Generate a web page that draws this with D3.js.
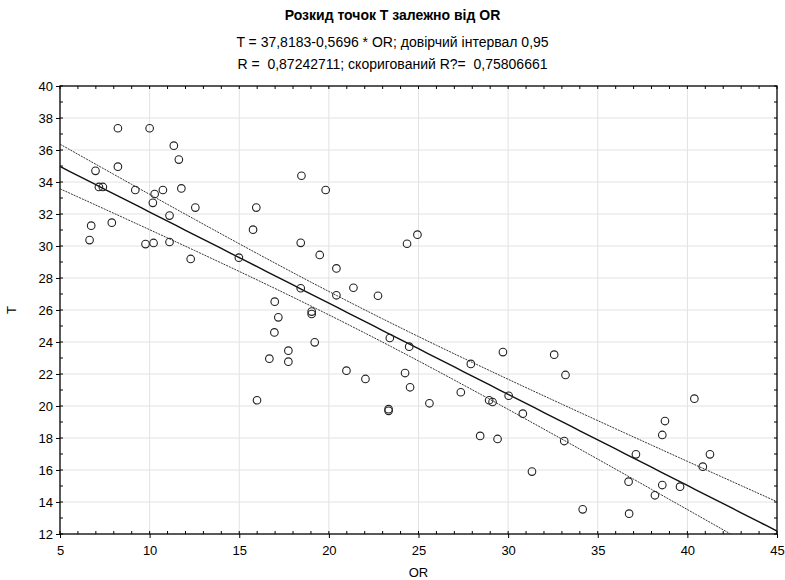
<!DOCTYPE html>
<html>
<head>
<meta charset="utf-8">
<script src="https://cdn.jsdelivr.net/npm/d3@7"></script>
<style>
	body { margin: 0; background: #fff; }
	svg text { font-family: Arial, "Liberation Sans", sans-serif; fill: #000; }
</style>
</head>
<body>
<div id="stage"></div>
<script>
	'use strict';

	// Values
	var orValues = [8.23, 10.0, 11.35, 11.63, 6.98, 8.23, 7.17, 7.39, 9.2, 10.28,
		10.74, 11.77, 10.18, 12.55, 15.95, 11.11, 6.74, 7.89, 15.77, 6.65,
		9.77, 10.22, 11.11, 12.29, 14.98, 18.47, 19.82, 18.43, 19.49, 20.42,
		18.43, 20.42, 16.98, 17.18, 19.04, 19.04, 21.37, 22.74, 16.96, 19.21,
		23.4, 24.48, 17.74, 16.68, 17.74, 20.98, 22.04, 24.25, 24.53, 15.99,
		23.33, 23.33, 25.61, 27.92, 29.71, 32.57, 33.2, 27.36, 28.94, 29.13,
		30.03, 30.82, 28.44, 29.41, 33.13, 31.33, 40.39, 38.75, 38.6, 37.13,
		41.26, 40.86, 36.72, 38.6, 39.59, 38.19, 34.16, 36.75, 24.36, 24.94];
	var tValues = [37.36, 37.36, 36.27, 35.4, 34.7, 34.96, 33.69, 33.69, 33.5, 33.25,
		33.5, 33.6, 32.7, 32.4, 32.4, 31.9, 31.27, 31.46, 31.02, 30.37,
		30.12, 30.19, 30.25, 29.19, 29.27, 34.39, 33.5, 30.2, 29.44, 28.6,
		27.36, 26.92, 26.52, 25.54, 25.9, 25.75, 27.39, 26.89, 24.6, 23.98,
		24.25, 23.71, 23.46, 22.96, 22.77, 22.21, 21.69, 22.06, 21.17, 20.36,
		19.8, 19.7, 20.17, 22.63, 23.37, 23.21, 21.94, 20.86, 20.36, 20.25,
		20.64, 19.52, 18.13, 17.94, 17.81, 15.9, 20.46, 19.06, 18.19, 16.98,
		16.98, 16.21, 15.27, 15.06, 14.96, 14.42, 13.54, 13.27, 30.14, 30.71];

	var xTicks = [5, 10, 15, 20, 25, 30, 35, 40, 45];
	var yTicks = [12, 14, 16, 18, 20, 22, 24, 26, 28, 30, 32, 34, 36, 38, 40];

	var titleLines = [
		"Розкид точок T залежно від OR",
		"T = 37,8183-0,5696 * OR; довірчий інтервал 0,95",
		"R =  0,87242711; скоригований R?=  0,75806661"
	];
	var intercept = 37.8183, slope = -0.5696, tCrit = 1.9908;

	var width = 785, height = 580;
	var margin = {top: 86, right: 8, bottom: 46, left: 60};

	var x = d3.scaleLinear().domain([5, 45]).range([margin.left, width - margin.right]);
	var y = d3.scaleLinear().domain([12, 40]).range([height - margin.bottom, margin.top]);

	var svg = d3.select("#stage").append("svg")
		.attr("width", width)
		.attr("height", height);

	svg.append("defs").append("clipPath")
		.attr("id", "plotclip")
		.append("rect")
		.attr("x", x(5)).attr("y", y(40))
		.attr("width", x(45) - x(5)).attr("height", y(12) - y(40));

	// Titles
	svg.selectAll("text.title")
		.data(titleLines)
		.enter()
		.append("text")
		.attr("class", "title")
		.attr("x", width / 2)
		.attr("y", function(d, i) { return [20, 47, 69][i]; })
		.attr("text-anchor", "middle")
		.style("font-size", "14px")
		.style("white-space", "pre")
		.style("font-weight", function(d, i) { return i == 0 ? "bold" : "normal"; })
		.text(function(d) { return d; });

	// Grid
	svg.append("g").selectAll("line")
		.data(xTicks.slice(1, -1))
		.enter().append("line")
		.attr("x1", function(d) { return x(d); }).attr("x2", function(d) { return x(d); })
		.attr("y1", y(40)).attr("y2", y(12))
		.attr("stroke", "#e2e2e2");
	svg.append("g").selectAll("line")
		.data(yTicks.slice(1, -1))
		.enter().append("line")
		.attr("y1", function(d) { return y(d); }).attr("y2", function(d) { return y(d); })
		.attr("x1", x(5)).attr("x2", x(45))
		.attr("stroke", "#e2e2e2");

	// Axes: major ticks outside, minor ticks every unit inside
	var minorX = d3.range(5, 46), minorY = d3.range(12, 41);
	var xAxis = d3.axisBottom(x).tickValues(xTicks).tickSize(4).tickSizeOuter(0);
	var yAxis = d3.axisLeft(y).tickValues(yTicks).tickSize(4).tickSizeOuter(0);

	var gx = svg.append("g")
		.attr("transform", "translate(0," + y(12) + ")")
		.call(xAxis);
	var gy = svg.append("g")
		.attr("transform", "translate(" + x(5) + ",0)")
		.call(yAxis);
	[gx, gy].forEach(function(g) {
		g.select(".domain").remove();
		g.selectAll("text").style("font-size", "13px").style("font-family", "Arial, 'Liberation Sans', sans-serif").attr("fill", "#000");
		g.selectAll("line").attr("stroke", "#000");
	});
	gx.selectAll("text").attr("dy", "1.05em");

	var minor = svg.append("g").attr("stroke", "#000");
	minor.selectAll("line.bx").data(minorX).enter().append("line")
		.attr("x1", function(d) { return x(d); }).attr("x2", function(d) { return x(d); })
		.attr("y1", y(12)).attr("y2", y(12) - 3);
	minor.selectAll("line.tx").data(minorX).enter().append("line")
		.attr("x1", function(d) { return x(d); }).attr("x2", function(d) { return x(d); })
		.attr("y1", y(40)).attr("y2", y(40) + 3);
	minor.selectAll("line.ly").data(minorY).enter().append("line")
		.attr("y1", function(d) { return y(d); }).attr("y2", function(d) { return y(d); })
		.attr("x1", x(5)).attr("x2", x(5) + 3);
	minor.selectAll("line.ry").data(minorY).enter().append("line")
		.attr("y1", function(d) { return y(d); }).attr("y2", function(d) { return y(d); })
		.attr("x1", x(45)).attr("x2", x(45) - 3);

	svg.append("rect")
		.attr("x", x(5)).attr("y", y(40))
		.attr("width", x(45) - x(5)).attr("height", y(12) - y(40))
		.attr("fill", "none")
		.attr("stroke", "#000")
		.attr("stroke-width", 1.3);

	// Axis titles
	svg.append("text")
		.attr("x", (x(5) + x(45)) / 2)
		.attr("y", 577)
		.attr("text-anchor", "middle")
		.style("font-size", "13px")
		.text("OR");
	svg.append("text")
		.attr("transform", "translate(16," + ((y(12) + y(40)) / 2) + ") rotate(-90)")
		.attr("text-anchor", "middle")
		.style("font-size", "13px")
		.text("T");

	// Regression line with 95% confidence band for the mean
	var points = orValues.map(function(d, i) { return {x: d, y: tValues[i]}; });
	var n = points.length, xMean = d3.mean(orValues);
	var sxx = d3.sum(orValues, function(d) { return Math.pow(d - xMean, 2); });
	var sse = d3.sum(points, function(d) { return Math.pow(d.y - (intercept + slope * d.x), 2); });
	var s = Math.sqrt(sse / (n - 2));

	var grid = d3.range(5, 45.01, 0.5);
	var fit = grid.map(function(v) {
		var h = tCrit * s * Math.sqrt(1 / n + Math.pow(v - xMean, 2) / sxx);
		var m = intercept + slope * v;
		return {x: v, y: m, lo: m - h, hi: m + h};
	});

	var plot = svg.append("g").attr("clip-path", "url(#plotclip)");

	var lineFit = d3.line().x(function(d) { return x(d.x); }).y(function(d) { return y(d.y); });
	var lineHi = d3.line().x(function(d) { return x(d.x); }).y(function(d) { return y(d.hi); });
	var lineLo = d3.line().x(function(d) { return x(d.x); }).y(function(d) { return y(d.lo); });

	[lineHi, lineLo].forEach(function(l) {
		plot.append("path")
			.attr("d", l(fit))
			.attr("fill", "none")
			.attr("stroke", "#333")
			.attr("stroke-width", 1)
			.attr("stroke-dasharray", "2,1");
	});
	plot.append("path")
		.attr("d", lineFit(fit))
		.attr("fill", "none")
		.attr("stroke", "#111")
		.attr("stroke-width", 1.4);

	// Points
	plot.selectAll("circle")
		.data(points)
		.enter()
		.append("circle")
		.attr("r", 3.8)
		.attr("cx", function(d) { return x(d.x); })
		.attr("cy", function(d) { return y(d.y); })
		.attr("fill", "none")
		.attr("stroke", "#222")
		.attr("stroke-width", 1.1);
</script>
</body>
</html>
